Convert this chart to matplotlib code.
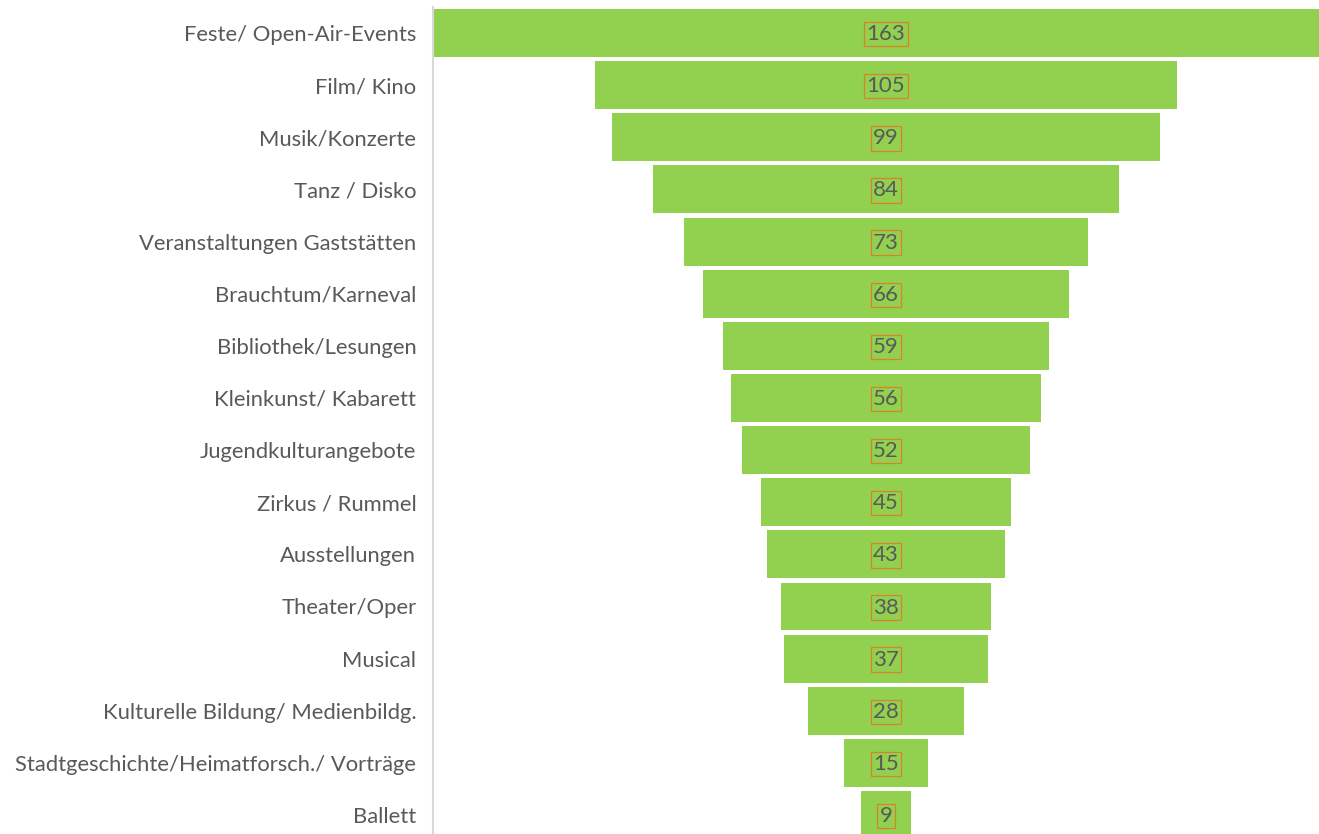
import matplotlib
matplotlib.use("Agg")
import matplotlib.pyplot as plt

categories = ["Feste/ Open-Air-Events", "Film/ Kino", "Musik/Konzerte", "Tanz / Disko",
              "Veranstaltungen Gaststätten", "Brauchtum/Karneval", "Bibliothek/Lesungen",
              "Kleinkunst/ Kabarett", "Jugendkulturangebote", "Zirkus / Rummel",
              "Ausstellungen", "Theater/Oper", "Musical", "Kulturelle Bildung/ Medienbildg.",
              "Stadtgeschichte/Heimatforsch./ Vorträge", "Ballett"]
values = [163, 105, 99, 84, 73, 66, 59, 56, 52, 45, 43, 38, 37, 28, 15, 9]

plt.rcParams['font.family'] = ['Lato', 'DejaVu Sans']

W, H = 1319, 834
fig = plt.figure(figsize=(W / 100, H / 100), dpi=100)
ax_left, ax_top, ax_bottom = 433, 7, 834
ax = fig.add_axes([ax_left / W, 1 - ax_bottom / H, (W - ax_left) / W, (ax_bottom - ax_top) / H])

pitch = 52.13
ppu = 5.54
center_px = 886
ax.set_xlim(-(center_px - ax_left) / ppu, (W - center_px) / ppu)
ax.set_ylim(-0.5 + (ax_bottom - ax_top) / pitch, -0.5)

ypos = list(range(len(categories)))
lefts = [-v / 2 for v in values]
ax.barh(ypos, values, left=lefts, height=0.92, color='#92D050', edgecolor='none')

for y, v in zip(ypos, values):
    ax.text(0, y + 0.02, str(v), ha='center', va='center', fontsize=16, color='#595959',
            bbox=dict(boxstyle='square,pad=0.1', facecolor='none', edgecolor='#D9822B', linewidth=0.9))

ax.set_yticks(ypos)
ax.set_yticklabels(categories, fontsize=15.8, color='#595959')
ax.tick_params(axis='y', length=0, pad=12)
ax.set_xticks([])
for s in ['top', 'right', 'bottom']:
    ax.spines[s].set_visible(False)
ax.spines['left'].set_color('#D9D9D9')
ax.spines['left'].set_linewidth(1.5)
ax.set_facecolor('white')

fig.savefig('out.png', dpi=100)
